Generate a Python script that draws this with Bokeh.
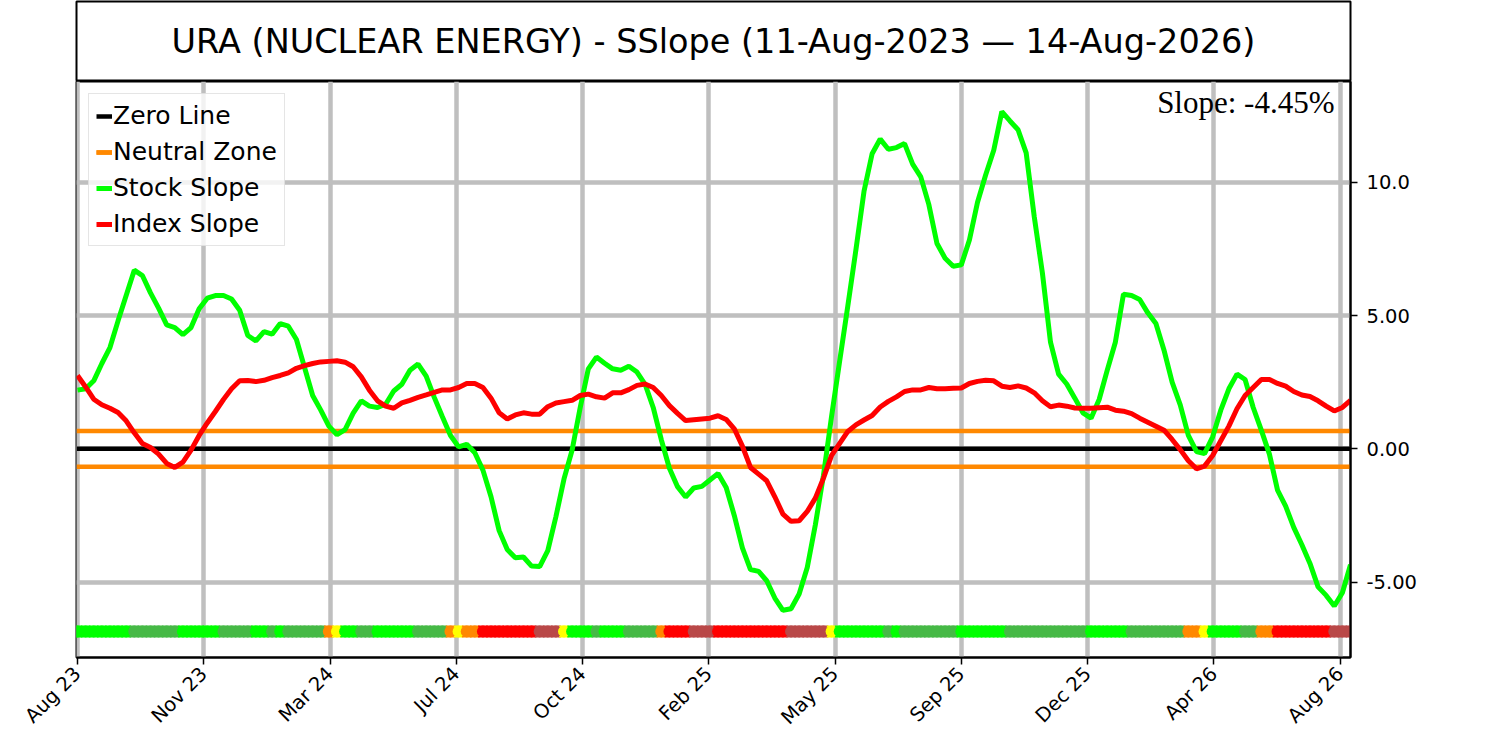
import math
import pandas as pd
from bokeh.plotting import figure
from bokeh.layouts import column
from bokeh.models import (Range1d, FixedTicker, DatetimeTickFormatter, Label,
                          ColumnDataSource)
from bokeh.embed import file_html
from bokeh.resources import INLINE

# ---------------- data ----------------
title_text = "URA (NUCLEAR ENERGY) - SSlope (11-Aug-2023 \u2014 14-Aug-2026)"
slope_text = "Slope: -4.45%"
start_date = "2023-08-11"
end_date = "2026-08-14"

stock_slope = [
    2.2, 2.25, 2.55, 3.2, 3.8, 4.8, 5.75, 6.7, 6.5, 5.85,
    5.28, 4.65, 4.55, 4.28, 4.55, 5.25, 5.65, 5.75, 5.75, 5.62,
    5.2, 4.25, 4.05, 4.4, 4.3, 4.7, 4.6, 4.1, 3.05, 2.0,
    1.45, 0.85, 0.53, 0.72, 1.34, 1.8, 1.6, 1.55, 1.67, 2.17,
    2.42, 2.95, 3.18, 2.73, 1.93, 1.2, 0.5, 0.07, 0.17, -0.15,
    -0.8, -1.8, -3.07, -3.78, -4.09, -4.06, -4.4, -4.42, -3.82, -2.55,
    -1.13, -0.05, 1.55, 3.0, 3.44, 3.21, 3.0, 2.95, 3.1, 2.88,
    2.42, 1.55, 0.34, -0.73, -1.42, -1.81, -1.47, -1.41, -1.17, -0.93,
    -1.45, -2.5, -3.72, -4.53, -4.6, -4.95, -5.6, -6.06, -6.0, -5.45,
    -4.45, -2.85, -1.0, 1.22, 3.3, 5.35, 7.46, 9.66, 11.07, 11.62,
    11.24, 11.3, 11.45, 10.68, 10.2, 9.16, 7.7, 7.15, 6.85, 6.9,
    7.83, 9.25, 10.27, 11.2, 12.65, 12.3, 11.97, 11.1, 8.7, 6.6,
    4.0, 2.8, 2.43, 1.9, 1.35, 1.15, 1.85, 2.95, 4.0, 5.8,
    5.75, 5.6, 5.1, 4.7, 3.7, 2.5, 1.65, 0.5, -0.1, -0.18,
    0.45, 1.45, 2.25, 2.8, 2.6, 1.55, 0.7, -0.2, -1.55, -2.15,
    -2.95, -3.6, -4.3, -5.18, -5.5, -5.9, -5.4, -4.35,
]

index_slope = [
    2.75, 2.32, 1.86, 1.65, 1.52, 1.36, 1.05, 0.6, 0.2, 0.05,
    -0.2, -0.55, -0.7, -0.5, -0.05, 0.5, 0.97, 1.4, 1.85, 2.25,
    2.55, 2.56, 2.52, 2.57, 2.67, 2.75, 2.85, 3.02, 3.12, 3.2,
    3.26, 3.28, 3.3, 3.25, 3.08, 2.7, 2.2, 1.8, 1.6, 1.52,
    1.72, 1.82, 1.93, 2.02, 2.12, 2.21, 2.21, 2.3, 2.45, 2.45,
    2.3, 1.9, 1.35, 1.12, 1.27, 1.35, 1.3, 1.3, 1.58, 1.72,
    1.77, 1.82, 2.0, 2.05, 1.95, 1.9, 2.1, 2.1, 2.22, 2.38,
    2.43, 2.3, 2.0, 1.62, 1.33, 1.06, 1.09, 1.12, 1.15, 1.24,
    1.1, 0.75, 0.1, -0.7, -0.95, -1.2, -1.8, -2.45, -2.72, -2.7,
    -2.35, -1.85, -1.1, -0.25, 0.2, 0.65, 0.9, 1.08, 1.25, 1.57,
    1.78, 1.95, 2.15, 2.21, 2.21, 2.3, 2.25, 2.25, 2.27, 2.28,
    2.45, 2.53, 2.57, 2.55, 2.35, 2.3, 2.36, 2.28, 2.1, 1.8,
    1.58, 1.64, 1.6, 1.53, 1.52, 1.52, 1.54, 1.56, 1.45, 1.41,
    1.32, 1.15, 1.0, 0.85, 0.7, 0.35, -0.03, -0.45, -0.75, -0.65,
    -0.25, 0.3, 0.85, 1.5, 2.0, 2.3, 2.6, 2.6, 2.45, 2.35,
    2.15, 2.02, 1.96, 1.8, 1.6, 1.42, 1.55, 1.82,
]

# weekly state of the signal strip
state_codes = list(
    "LLLLLLL" "GGGGGG" "LLLLL" "GGGG" "LL" "G" "L" "GGGGG" "O" "Y" "LL" "GG"
    "LLLLL" "GGGG" "O" "Y" "OO" "RRRRRRR" "BBB" "Y" "LLL" "G" "LLL" "GGGG" "O"
    "RRR" "BBB" "RRRRRRRRR" "BBBBB" "Y" "LLLLLL" "G" "L" "GGGGGGG" "LLLLLL"
    "GGGGGGGGGG" "LLLLL" "GGGGGGG" "OO" "Y" "LLLL" "GG" "OO" "RRRRRRR" "BBB"
)
state_colors = {"L": "#00ff00", "G": "#46b946", "O": "#ff8800",
                "Y": "#ffff00", "R": "#ff0000", "B": "#b94848"}

tick_dates = ["2023-08-11", "2023-11-28", "2024-03-16", "2024-07-03",
              "2024-10-20", "2025-02-06", "2025-05-26", "2025-09-12",
              "2025-12-30", "2026-04-18", "2026-08-05"]
y_ticks = [-5, 0, 5, 10]
y_tick_labels = ["-5.00", "0.00", "5.00", "10.0"]
zero_level = 0.0
neutral_band = 0.67
strip_level = -6.85
y_min, y_max = -7.83, 13.78

# ---------------- build ----------------
n = len(stock_slope)
dates = pd.date_range(start_date, periods=n, freq="7D")
week_ms = 7 * 24 * 3600 * 1000

src = ColumnDataSource(dict(
    date=dates,
    stock=stock_slope,
    index=index_slope[:n],
    strip=[strip_level] * n,
    color=[state_colors[c] for c in state_codes[:n]],
))

x_start = pd.Timestamp(start_date) - pd.Timedelta(hours=21)
x_end = pd.Timestamp(end_date)

FONT = "DejaVu Sans"
W = 1496
LB, RB = 76, 146

# title box
tf = figure(width=W, height=81, x_range=Range1d(0, 1), y_range=Range1d(0, 1),
            x_axis_location=None, y_axis_location=None,
            output_backend="svg", toolbar_location=None,
            min_border_left=LB, min_border_right=RB,
            min_border_top=1, min_border_bottom=0)
tf.xgrid.grid_line_color = None
tf.ygrid.grid_line_color = None
tf.outline_line_color = "black"
tf.outline_line_width = 2
tf.add_layout(Label(x=0.5, y=0.5, text=title_text, text_align="center",
                    text_baseline="middle", text_font=FONT,
                    text_font_size="33.5px", text_color="black"))

# main chart
p = figure(width=W, height=659, x_axis_type="datetime", y_axis_location="right",
           x_range=Range1d(x_start, x_end), y_range=Range1d(y_min, y_max),
           output_backend="svg", toolbar_location=None,
           min_border_left=LB, min_border_right=RB,
           min_border_top=0, min_border_bottom=82)
p.outline_line_color = "black"
p.outline_line_width = 2

xt = FixedTicker(ticks=[pd.Timestamp(d).value / 1e6 for d in tick_dates])
p.xaxis.ticker = xt
p.xgrid.ticker = xt
fmt = "%b %y"
p.xaxis.formatter = DatetimeTickFormatter(days=fmt, months=fmt, years=fmt,
                                          hours=fmt, minutes=fmt)
yt = FixedTicker(ticks=y_ticks)
p.yaxis.ticker = yt
p.ygrid.ticker = yt
p.yaxis.major_label_overrides = dict(zip(y_ticks, y_tick_labels))

for ax in (p.xaxis, p.yaxis):
    ax.axis_line_color = "black"
    ax.axis_line_width = 2
    ax.major_tick_line_color = "black"
    ax.major_tick_line_width = 1.5
    ax.major_tick_out = 7
    ax.major_tick_in = 0
    ax.minor_tick_line_color = None
    ax.major_label_text_font = FONT
    ax.major_label_text_font_size = "19.5px"
    ax.major_label_text_color = "black"
    ax.major_label_standoff = 6
p.yaxis.major_label_standoff = 9
p.xaxis.major_label_orientation = math.pi / 4

for g in (p.xgrid, p.ygrid):
    g.grid_line_color = "#bfbfbf"
    g.grid_line_width = 4.5

span_x = pd.DatetimeIndex([x_start, x_end])
p.line(x=span_x, y=[zero_level, zero_level], line_color="black",
       line_width=4.5, legend_label="Zero Line")
p.line(x=span_x, y=[neutral_band, neutral_band], line_color="#ff8800",
       line_width=4.5, legend_label="Neutral Zone")
p.line(x=span_x, y=[-neutral_band, -neutral_band], line_color="#ff8800",
       line_width=4.5, legend_label="Neutral Zone")
p.line("date", "stock", source=src, line_color="#00ff00", line_width=5,
       legend_label="Stock Slope")
p.line("date", "index", source=src, line_color="#ff0000", line_width=5,
       legend_label="Index Slope")
# signal strip: a band of week-wide cells with round dots
p.rect("date", "strip", width=week_ms * 1.2, height=12, height_units="screen",
       source=src, fill_color="color", line_color=None)
p.scatter("date", "strip", source=src, size=12, fill_color="color",
          line_color=None)

p.add_layout(Label(x=x_end, y=y_max, text=slope_text, text_align="right",
                   text_baseline="top", x_offset=-16, y_offset=-3,
                   text_font="Liberation Serif", text_font_size="31px",
                   text_color="black"))

lg = p.legend[0]
lg.location = "top_left"
lg.margin = 12
lg.padding = 7
lg.spacing = 7
lg.glyph_width = 16
lg.label_standoff = 1
lg.label_text_font = FONT
lg.label_text_font_size = "25px"
lg.label_text_color = "black"
lg.border_line_color = "#cccccc"
lg.border_line_width = 1.5
lg.background_fill_alpha = 0.8

layout = column(tf, p)
open("out.html", "w").write(file_html(layout, INLINE))
